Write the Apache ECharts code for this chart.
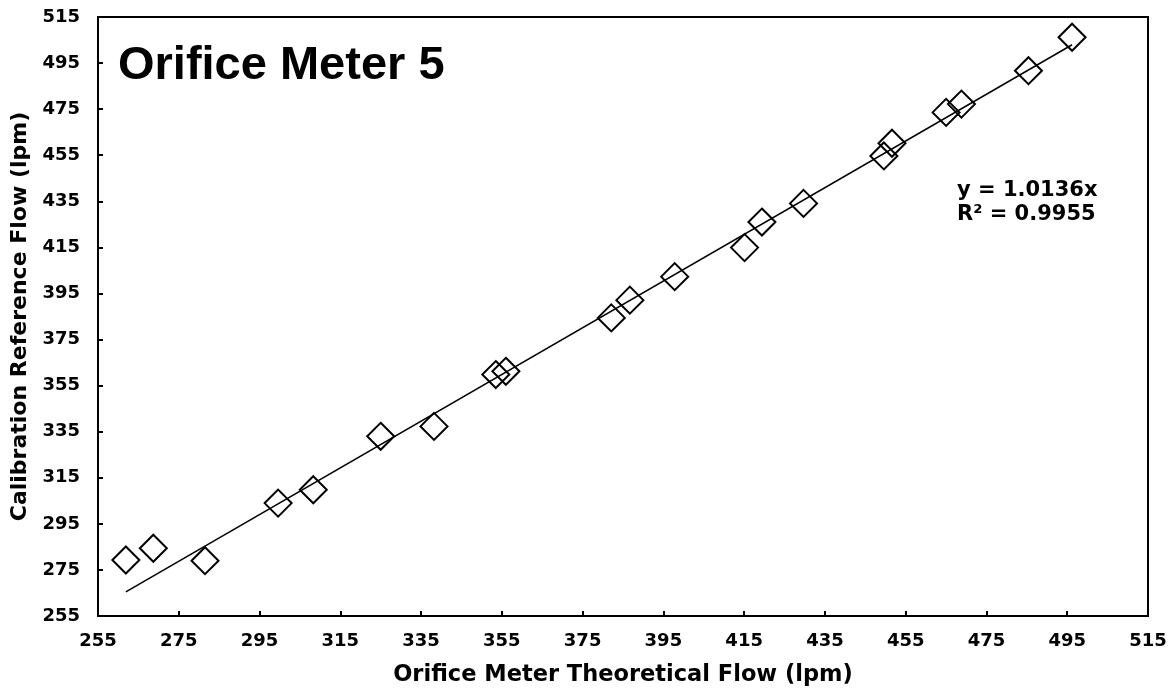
<!DOCTYPE html>
<html>
<head>
<meta charset="utf-8">
<script src="https://cdn.jsdelivr.net/npm/echarts@6/dist/echarts.min.js"></script>
<style>
html,body{margin:0;padding:0;background:#fff;}
#chart{width:1173px;height:696px;}
</style>
</head>
<body>
<div id="chart"></div>
<script>
// Data
const theoreticalFlow = [261.9, 268.7, 281.5, 299.6, 308.3, 325.0, 338.2, 353.5, 356.0, 382.1, 386.7, 397.8, 415.1, 419.4, 429.7, 449.6, 451.6, 465.0, 468.8, 485.4, 496.2];
const referenceFlow   = [279.3, 284.4, 279.0, 304.0, 309.8, 333.0, 337.3, 359.8, 361.2, 384.4, 392.1, 402.3, 414.9, 426.0, 434.1, 454.7, 460.2, 473.6, 477.2, 491.7, 506.2];
const trendSlope = 1.0136;
const trendR2 = 0.9955;
const axisMin = 255, axisMax = 515, axisStep = 20;
const chartTitle = 'Orifice Meter 5';
const xTitle = 'Orifice Meter Theoretical Flow (lpm)';
const yTitle = 'Calibration Reference Flow (lpm)';

const points = theoreticalFlow.map((x, i) => [x, referenceFlow[i]]);
const xLo = Math.min(...theoreticalFlow), xHi = Math.max(...theoreticalFlow);
const trend = [[xLo, trendSlope * xLo], [xHi, trendSlope * xHi]];

const labelFont = {fontFamily: 'DejaVu Sans', fontWeight: 'bold', fontSize: 18, color: '#000'};
const nameFont = {fontFamily: 'DejaVu Sans', fontWeight: 'bold', fontSize: 22.5, color: '#000'};
const chart = echarts.init(document.getElementById('chart'));
chart.setOption({
  animation: false,
  backgroundColor: '#fff',
  grid: {left: 98, top: 17, right: 25, bottom: 80, show: true, borderColor: '#000', borderWidth: 2, backgroundColor: 'transparent'},
  xAxis: {
    type: 'value', min: axisMin, max: axisMax, interval: axisStep,
    name: xTitle, nameLocation: 'middle', nameGap: 48,
    nameTextStyle: nameFont,
    axisLine: {show: true, lineStyle: {color: '#000', width: 2}},
    axisTick: {show: true, inside: true, length: 5, lineStyle: {color: '#000', width: 2}},
    axisLabel: Object.assign({margin: 16}, labelFont),
    splitLine: {show: false}
  },
  yAxis: {
    type: 'value', min: axisMin, max: axisMax, interval: axisStep,
    name: yTitle, nameLocation: 'middle', nameGap: 62, nameRotate: 90,
    nameTextStyle: Object.assign({}, nameFont, {fontSize: 22}),
    axisLine: {show: true, lineStyle: {color: '#000', width: 2}},
    axisTick: {show: true, inside: true, length: 5, lineStyle: {color: '#000', width: 2}},
    axisLabel: Object.assign({margin: 18}, labelFont),
    splitLine: {show: false}
  },
  series: [
    {
      type: 'line', data: trend, showSymbol: false, symbol: 'none',
      lineStyle: {color: '#000', width: 1.5}, z: 2, silent: true
    },
    {
      type: 'scatter', data: points, symbol: 'diamond', symbolSize: 27,
      itemStyle: {color: 'transparent', borderColor: '#000', borderWidth: 2, opacity: 1}, z: 3
    }
  ],
  graphic: [
    {type: 'text', left: 118, top: 43, z: 10,
     style: {text: chartTitle, font: 'bold 47px "Liberation Sans", Arial, sans-serif', fill: '#000'}},
    {type: 'text', left: 957, top: 179, z: 10,
     style: {text: 'y = ' + trendSlope.toFixed(4) + 'x\nR² = ' + trendR2.toFixed(4), font: 'bold 21px "DejaVu Sans", sans-serif', fill: '#000', lineHeight: 24}}
  ]
});
</script>
</body>
</html>
